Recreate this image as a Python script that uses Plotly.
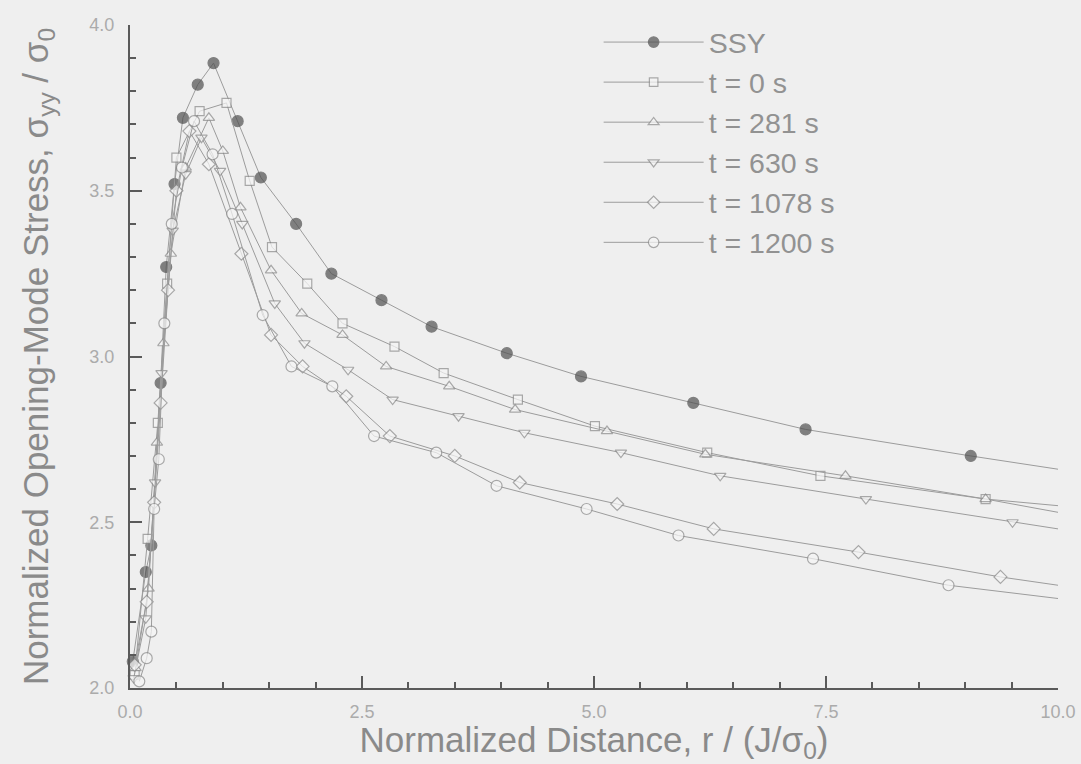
import plotly.graph_objects as go

# ---- data ----
ssy_x = [0.03, 0.17, 0.23, 0.33, 0.39, 0.48, 0.57, 0.73, 0.90, 1.16, 1.41, 1.79, 2.17, 2.71, 3.25, 4.06, 4.86, 6.07, 7.28, 9.06, 10.0]
ssy_y = [2.08, 2.35, 2.43, 2.92, 3.27, 3.52, 3.72, 3.82, 3.885, 3.71, 3.54, 3.40, 3.25, 3.17, 3.09, 3.01, 2.94, 2.86, 2.78, 2.70, 2.66]

t0_x = [0.05, 0.19, 0.30, 0.40, 0.50, 0.75, 1.04, 1.29, 1.53, 1.91, 2.29, 2.85, 3.38, 4.18, 5.01, 6.22, 7.44, 9.22, 10.0]
t0_y = [2.04, 2.45, 2.80, 3.22, 3.60, 3.74, 3.765, 3.53, 3.33, 3.22, 3.10, 3.03, 2.95, 2.87, 2.79, 2.71, 2.64, 2.57, 2.53]

t281_x = [0.06, 0.20, 0.29, 0.36, 0.44, 0.60, 0.85, 1.00, 1.19, 1.52, 1.85, 2.29, 2.76, 3.44, 4.15, 5.14, 6.20, 7.71, 9.22, 10.0]
t281_y = [2.06, 2.30, 2.74, 3.04, 3.31, 3.57, 3.72, 3.62, 3.45, 3.26, 3.13, 3.065, 2.97, 2.91, 2.84, 2.775, 2.705, 2.64, 2.57, 2.55]

t630_x = [0.04, 0.17, 0.27, 0.34, 0.46, 0.60, 0.77, 0.97, 1.21, 1.56, 1.88, 2.35, 2.83, 3.54, 4.25, 5.29, 6.36, 7.93, 9.51, 10.0]
t630_y = [2.03, 2.21, 2.62, 2.95, 3.38, 3.55, 3.66, 3.56, 3.40, 3.16, 3.04, 2.96, 2.87, 2.82, 2.77, 2.71, 2.64, 2.57, 2.50, 2.48]

t1078_x = [0.05, 0.18, 0.26, 0.33, 0.41, 0.50, 0.64, 0.85, 1.20, 1.52, 1.86, 2.33, 2.80, 3.50, 4.20, 5.25, 6.29, 7.85, 9.38, 10.0]
t1078_y = [2.07, 2.26, 2.56, 2.86, 3.20, 3.50, 3.68, 3.58, 3.31, 3.065, 2.97, 2.88, 2.76, 2.70, 2.62, 2.555, 2.48, 2.41, 2.335, 2.31]

t1200_x = [0.10, 0.18, 0.23, 0.26, 0.31, 0.37, 0.45, 0.56, 0.69, 0.89, 1.10, 1.43, 1.74, 2.18, 2.63, 3.30, 3.95, 4.92, 5.91, 7.36, 8.82, 10.0]
t1200_y = [2.02, 2.09, 2.17, 2.54, 2.69, 3.10, 3.40, 3.57, 3.71, 3.61, 3.43, 3.125, 2.97, 2.91, 2.76, 2.71, 2.61, 2.54, 2.46, 2.39, 2.31, 2.27]

series_names = ["SSY", "t = 0 s", "t = 281 s", "t = 630 s", "t = 1078 s", "t = 1200 s"]
series_x = [ssy_x, t0_x, t281_x, t630_x, t1078_x, t1200_x]
series_y = [ssy_y, t0_y, t281_y, t630_y, t1078_y, t1200_y]

symbols = ["circle", "square", "triangle-up", "triangle-down", "diamond", "circle"]
fills = ["#505050", "#f6f6f6", "#f6f6f6", "#f6f6f6", "#f6f6f6", "#f6f6f6"]
edges = ["#505050", "#8a8a8a", "#8a8a8a", "#8a8a8a", "#8a8a8a", "#8a8a8a"]
msizes = [11, 9, 10, 10, 10, 11]

fig = go.Figure()
for name, xs, ys, sym, fill, edge, size in zip(series_names, series_x, series_y, symbols, fills, edges, msizes):
    sizes = [size] * (len(xs) - 1) + [0]   # last value is where the line meets the axis edge
    fig.add_trace(go.Scatter(
        x=xs, y=ys, name=name, mode="lines+markers",
        line=dict(color="#9c9c9c", width=1),
        marker=dict(symbol=sym, size=sizes, color=fill,
                    line=dict(color=edge, width=1.2)),
        cliponaxis=False,
    ))

FONT = "Liberation Sans, Arial, sans-serif"
axis_font = dict(family=FONT, size=18, color="#ababab")
title_font = dict(family=FONT, size=35, color="#8a8a8a")
NB = "\u00a0"

fig.update_layout(
    width=1081, height=764,
    margin=dict(l=130, r=23, t=25, b=76),
    paper_bgcolor="#efefef", plot_bgcolor="#efefef",
    showlegend=True,
    legend=dict(x=0.505, y=1.012, xanchor="left", yanchor="top",
                bgcolor="rgba(0,0,0,0)", itemwidth=100, tracegroupgap=0,
                font=dict(family=FONT, size=28.5, color="#929292")),
    xaxis=dict(range=[0, 10], showgrid=False, zeroline=False, automargin=False,
               showline=True, linecolor="#5a5a5a", linewidth=2,
               ticks="inside", ticklen=12, tickwidth=2, tickcolor="#5a5a5a",
               tick0=0, dtick=2.5, tickformat=".1f", tickfont=axis_font,
               ticklabelstandoff=6,
               minor=dict(ticks="inside", ticklen=6, tickcolor="#5a5a5a", dtick=0.5, tickwidth=1.5),
               title=dict(text="Normalized Distance, r / (J/σ<sub>0</sub>)" + NB * 5,
                          font=title_font, standoff=3)),
    yaxis=dict(range=[2, 4], showgrid=False, zeroline=False, automargin=False,
               showline=True, linecolor="#5a5a5a", linewidth=2,
               ticks="inside", ticklen=12, tickwidth=2, tickcolor="#5a5a5a",
               tick0=2, dtick=0.5, tickformat=".1f", tickfont=axis_font,
               ticklabelstandoff=10,
               minor=dict(ticks="inside", ticklen=6, tickcolor="#5a5a5a", dtick=0.1, tickwidth=1.5),
               title=dict(text="Normalized Opening-Mode Stress, σ<sub>yy</sub> / σ<sub>0</sub>",
                          font=title_font, standoff=30)),
)

fig.write_html("out.html")
